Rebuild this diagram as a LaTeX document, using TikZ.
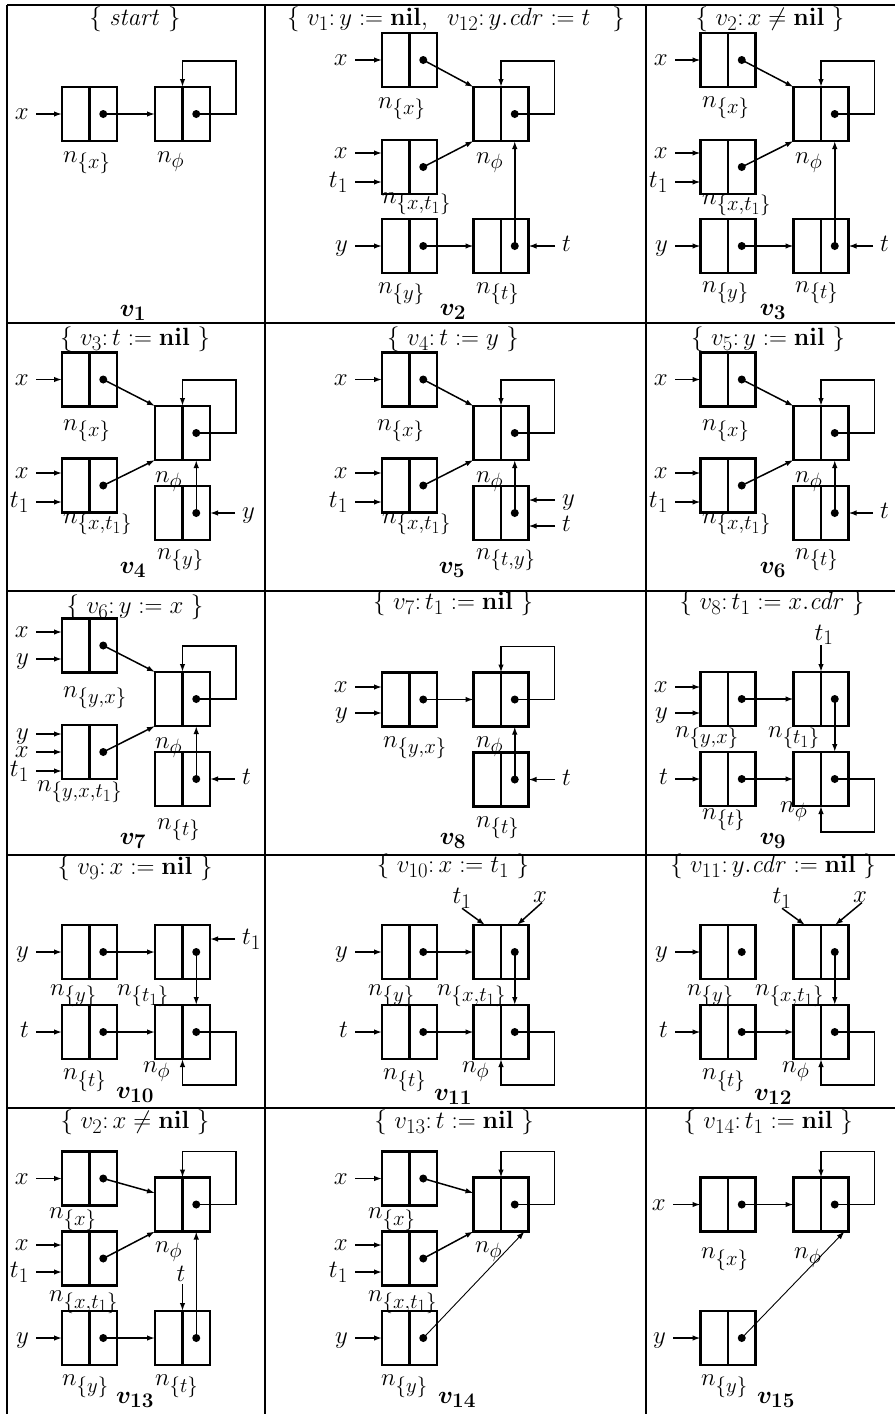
\documentclass[tikz,border=0pt]{standalone}
\usepackage{amsmath}
\usepackage{bm}
\DeclareMathSizes{24.88}{24.88}{20.74}{17.28}
\usetikzlibrary{arrows.meta}
\tikzset{
  lbox/.style={draw, line width=2.4pt, minimum width=55pt, minimum height=54pt, inner sep=0pt, outer sep=0pt},
  ptr/.style={-{Latex[length=8pt,width=5.5pt]}, line width=1.5pt},
  thinptr/.style={-{Latex[length=8pt,width=5.5pt]}, line width=0.9pt},
  vlab/.style={inner sep=0pt},
  nlab/.style={inner sep=0pt, anchor=base west},
  grid/.style={line width=2.2pt},
  every node/.style={font=\fontsize{24.88}{30}\selectfont}
}
\newcommand{\lc}[3]{%
  \node[lbox] (#1) at (#2,#3) {};
  \draw[line width=2.4pt] (#1.north) -- (#1.south);
  \coordinate (#1d) at ([xshift=13.75pt]#1.center);
  \fill (#1d) circle (4pt);}
\newcommand{\pvl}[5]{%
  \coordinate (#1s) at (#3,#4);
  \node[vlab, anchor=base east] (#1) at ([xshift=-7pt,yshift=-5.5pt]#1s) {$#2$};
  \draw[ptr] (#1s) -- (#5.west |- #1s);}
\newcommand{\pvr}[5]{%
  \coordinate (#1s) at (#3,#4);
  \node[vlab, anchor=base west] (#1) at ([xshift=7pt,yshift=-5.5pt]#1s) {$#2$};
  \draw[ptr] (#1s) -- (#5.east |- #1s);}
\newcommand{\nlbl}[4]{\node[nlab] (#1) at (#2,#3) {$#4$};}
\newcommand{\loopup}[1]{\draw[ptr] (#1d) -- ++(39.75,0) |- ([yshift=26pt]#1.north) -- (#1.north);}
\newcommand{\loopdn}[1]{\draw[ptr] (#1d) -- ++(39.75,0) |- ([yshift=-26pt]#1.south) -- (#1.south);}
\begin{document}
\begin{tikzpicture}[x=1pt,y=-1pt]
\useasboundingbox (0,0) rectangle (895,1414);
% grid
\draw[grid] (7,5) -- (895,5);
\draw[grid] (7,323) -- (895,323);
\draw[grid] (7,591) -- (895,591);
\draw[grid] (7,855) -- (895,855);
\draw[grid] (7,1108) -- (895,1108);
\draw[grid] (7,5) -- (7,1414);
\draw[grid] (265,5) -- (265,1414);
\draw[grid] (646,5) -- (646,1414);
% ---------- cell 1
\node (h1) at (135,19) {$\{\ \mathit{start}\ \}$};
\lc{a1x}{89.5}{114}\lc{a1p}{182.5}{114}
\pvl{a1vx}{x}{36}{114}{a1x}
\draw[ptr] (a1xd) -- (a1p.west);
\loopup{a1p}
\nlbl{a1lx}{63}{162}{n_{\{x\}}}
\nlbl{a1lp}{157}{162}{n_{\phi}}
\node (v1) at (133,313) {$\bm{v_1}$};
% ---------- cell 2
\node (h2) at (456,19) {$\{\ v_1{:}\,y := \mathbf{nil},\ \ v_{12}{:}\,y.\mathit{cdr} := t\hspace{22pt}\}$};
\lc{a2x}{409.5}{60}\lc{a2p}{501}{114}\lc{a2xt}{409.5}{167}\lc{a2y}{409.5}{246}\lc{a2t}{501}{246}
\pvl{a2vx}{x}{355}{60}{a2x}
\pvl{a2vx2}{x}{355}{153}{a2xt}
\pvl{a2vt1}{t_1}{355}{182}{a2xt}
\pvl{a2vy}{y}{355}{246}{a2y}
\pvr{a2vt}{t}{555}{246}{a2t}
\draw[ptr] (a2xd) -- (a2p.north west);
\draw[ptr] (a2xtd) -- (a2p.south west);
\draw[ptr] (a2yd) -- (a2t.west);
\draw[ptr] (a2td) -- (a2td |- a2p.south);
\loopup{a2p}
\nlbl{a2lx}{378}{108}{n_{\{x\}}}
\nlbl{a2lp}{476}{163}{n_{\phi}}
\nlbl{a2lxt}{382}{203}{n_{\{x,t_1\}}}
\nlbl{a2ly}{378}{293}{n_{\{y\}}}
\nlbl{a2lt}{476}{293}{n_{\{t\}}}
\node (v2) at (453,312) {$\bm{v_2}$};
% ---------- cell 3
\node (h3) at (770,19) {$\{\ v_2{:}\,x \neq \mathbf{nil}\ \}$};
\lc{a3x}{728}{60}\lc{a3p}{821}{114}\lc{a3xt}{728}{167}\lc{a3y}{728}{246}\lc{a3t}{821}{246}
\pvl{a3vx}{x}{675}{60}{a3x}
\pvl{a3vx2}{x}{675}{153}{a3xt}
\pvl{a3vt1}{t_1}{675}{182}{a3xt}
\pvl{a3vy}{y}{675}{246}{a3y}
\pvr{a3vt}{t}{873}{246}{a3t}
\draw[ptr] (a3xd) -- (a3p.north west);
\draw[ptr] (a3xtd) -- (a3p.south west);
\draw[ptr] (a3yd) -- (a3t.west);
\draw[ptr] (a3td) -- (a3td |- a3p.south);
\loopup{a3p}
\nlbl{a3lx}{702}{107}{n_{\{x\}}}
\nlbl{a3lp}{795}{163}{n_{\phi}}
\nlbl{a3lxt}{702}{204}{n_{\{x,t_1\}}}
\nlbl{a3ly}{702}{292}{n_{\{y\}}}
\nlbl{a3lt}{795}{292}{n_{\{t\}}}
\node (v3) at (773,312) {$\bm{v_3}$};
% ---------- cell 4
\node (h4) at (135,339) {$\{\ v_3{:}\,t := \mathbf{nil}\ \}$};
\lc{b1x}{89.5}{379.5}\lc{b1p}{182.5}{433}\lc{b1xt}{89.5}{485.5}\lc{b1y}{182.5}{513}
\pvl{b1vx}{x}{36}{379.5}{b1x}
\pvl{b1vx2}{x}{36}{473}{b1xt}
\pvl{b1vt1}{t_1}{36}{502}{b1xt}
\pvr{b1vy}{y}{235}{513}{b1y}
\draw[ptr] (b1xd) -- (b1p.north west);
\draw[ptr] (b1xtd) -- (b1p.south west);
\draw[ptr] (b1yd) -- (b1yd |- b1p.south);
\loopup{b1p}
\nlbl{b1lx}{63}{430}{n_{\{x\}}}
\nlbl{b1lp}{155}{482}{n_{\phi}}
\nlbl{b1lxt}{63}{523}{n_{\{x,t_1\}}}
\nlbl{b1ly}{157}{559}{n_{\{y\}}}
\node (v4) at (133,570) {$\bm{v_4}$};
% ---------- cell 5
\node (h5) at (453,339) {$\{\ v_4{:}\,t := y\ \}$};
\lc{b2x}{409.5}{379.5}\lc{b2p}{501}{433}\lc{b2xt}{409.5}{485.5}\lc{b2t}{501}{513}
\pvl{b2vx}{x}{355}{379.5}{b2x}
\pvl{b2vx2}{x}{355}{473}{b2xt}
\pvl{b2vt1}{t_1}{355}{502}{b2xt}
\pvr{b2vy}{y}{555}{500}{b2t}
\pvr{b2vt}{t}{555}{526}{b2t}
\draw[ptr] (b2xd) -- (b2p.north west);
\draw[ptr] (b2xtd) -- (b2p.south west);
\draw[ptr] (b2td) -- (b2td |- b2p.south);
\loopup{b2p}
\nlbl{b2lx}{377}{430}{n_{\{x\}}}
\nlbl{b2lp}{476}{482}{n_{\phi}}
\nlbl{b2lxt}{382}{523}{n_{\{x,t_1\}}}
\nlbl{b2lt}{476}{559}{n_{\{t,y\}}}
\node (v5) at (452,570) {$\bm{v_5}$};
% ---------- cell 6
\node (h6) at (768,339) {$\{\ v_5{:}\,y := \mathbf{nil}\ \}$};
\lc{b3x}{728}{379.5}\lc{b3p}{821}{433}\lc{b3xt}{728}{485.5}\lc{b3t}{821}{513}
\pvl{b3vx}{x}{675}{379.5}{b3x}
\pvl{b3vx2}{x}{675}{473}{b3xt}
\pvl{b3vt1}{t_1}{675}{502}{b3xt}
\pvr{b3vt}{t}{873}{513}{b3t}
\draw[ptr] (b3xd) -- (b3p.north west);
\draw[ptr] (b3xtd) -- (b3p.south west);
\draw[ptr] (b3td) -- (b3td |- b3p.south);
\loopup{b3p}
\nlbl{b3lx}{702}{430}{n_{\{x\}}}
\nlbl{b3lp}{795}{482}{n_{\phi}}
\nlbl{b3lxt}{702}{523}{n_{\{x,t_1\}}}
\nlbl{b3lt}{795}{559}{n_{\{t\}}}
\node (v6) at (773,570) {$\bm{v_6}$};
% ---------- cell 7
\node (h7) at (135,607) {$\{\ v_6{:}\,y := x\ \}$};
\lc{c1yx}{89.5}{645.5}\lc{c1p}{182.5}{699}\lc{c1yxt}{89.5}{752}\lc{c1t}{182.5}{779}
\pvl{c1vx}{x}{36}{632}{c1yx}
\pvl{c1vy}{y}{36}{659}{c1yx}
\pvl{c1vy2}{y}{36}{734}{c1yxt}
\pvl{c1vx2}{x}{36}{752}{c1yxt}
\pvl{c1vt1}{t_1}{36}{771}{c1yxt}
\pvr{c1vt}{t}{235}{779}{c1t}
\draw[ptr] (c1yxd) -- (c1p.north west);
\draw[ptr] (c1yxtd) -- (c1p.south west);
\draw[ptr] (c1td) -- (c1td |- c1p.south);
\loopup{c1p}
\nlbl{c1lyx}{63}{697}{n_{\{y,x\}}}
\nlbl{c1lp}{155}{748}{n_{\phi}}
\nlbl{c1lyxt}{37}{791}{n_{\{y,x,t_1\}}}
\nlbl{c1lt}{157}{829}{n_{\{t\}}}
\node (v7) at (133,841) {$\bm{v_7}$};
% ---------- cell 8
\node (h8) at (453,603) {$\{\ v_7{:}\,t_1 := \mathbf{nil}\ \}$};
\lc{c2yx}{409.5}{699.5}\lc{c2p}{501}{699.5}\lc{c2t}{501}{779.5}
\pvl{c2vx}{x}{355}{687}{c2yx}
\pvl{c2vy}{y}{355}{713}{c2yx}
\pvr{c2vt}{t}{555}{779.5}{c2t}
\draw[ptr] (c2yxd) -- (c2p.west);
\draw[ptr] (c2td) -- (c2td |- c2p.south);
\loopup{c2p}
\nlbl{c2lyx}{383}{747}{n_{\{y,x\}}}
\nlbl{c2lp}{476}{747}{n_{\phi}}
\nlbl{c2lt}{476}{827}{n_{\{t\}}}
\node (v8) at (453,841) {$\bm{v_8}$};
% ---------- cell 9
\node (h9) at (772,603) {$\{\ v_8{:}\,t_1 := x.\mathit{cdr}\ \}$};
\lc{c3yx}{728}{699}\lc{c3t1}{821}{699}\lc{c3t}{728}{779}\lc{c3p}{821}{779}
\pvl{c3vx}{x}{675}{687}{c3yx}
\pvl{c3vy}{y}{675}{713}{c3yx}
\pvl{c3vt}{t}{675}{779}{c3t}
\node[vlab, anchor=south] (c3vt1) at (824,645) {$t_1$};
\draw[ptr] (c3vt1.south -| c3t1.north) -- (c3t1.north);
\draw[ptr] (c3yxd) -- (c3t1.west);
\draw[ptr] (c3td) -- (c3p.west);
\draw[ptr] (c3t1d) -- (c3t1d |- c3p.north);
\loopdn{c3p}
\nlbl{c3lyx}{675}{737}{n_{\{y,x\}}}
\nlbl{c3lt1}{768}{737}{n_{\{t_1\}}}
\nlbl{c3lt}{702}{819}{n_{\{t\}}}
\nlbl{c3lp}{780}{812}{n_{\phi}}
\node (v9) at (773,841) {$\bm{v_9}$};
% ---------- cell 10
\node (h10) at (135,868) {$\{\ v_9{:}\,x := \mathbf{nil}\ \}$};
\lc{d1y}{89.5}{952}\lc{d1t1}{182.5}{952}\lc{d1t}{89.5}{1032}\lc{d1p}{182.5}{1032}
\pvl{d1vy}{y}{36}{952}{d1y}
\pvl{d1vt}{t}{36}{1032}{d1t}
\pvr{d1vt1}{t_1}{235}{939}{d1t1}
\draw[ptr] (d1yd) -- (d1t1.west);
\draw[ptr] (d1td) -- (d1p.west);
\draw[ptr] (d1t1d) -- (d1t1d |- d1p.north);
\loopdn{d1p}
\nlbl{d1ly}{50}{995}{n_{\{y\}}}
\nlbl{d1lt1}{117}{995}{n_{\{t_1\}}}
\nlbl{d1lt}{63}{1079}{n_{\{t\}}}
\nlbl{d1lp}{143}{1072}{n_{\phi}}
\node (v10) at (135,1095) {$\bm{v_{10}}$};
% ---------- cell 11
\node (h11) at (453,866) {$\{\ v_{10}{:}\,x := t_1\ \}$};
\lc{d2y}{409.5}{952}\lc{d2xt}{501}{952}\lc{d2t}{409.5}{1032}\lc{d2p}{501}{1032}
\pvl{d2vy}{y}{355}{952}{d2y}
\pvl{d2vt}{t}{355}{1032}{d2t}
\node[vlab] (d2vt1) at (462,898) {$t_1$};
\node[vlab] (d2vx) at (540,897) {$x$};
\draw[ptr] (d2vt1.south) -- ([xshift=-16pt]d2xt.north);
\draw[ptr] ([xshift=2pt]d2vx.south) -- ([xshift=16pt]d2xt.north);
\draw[ptr] (d2yd) -- (d2xt.west);
\draw[ptr] (d2td) -- (d2p.west);
\draw[ptr] (d2xtd) -- (d2xtd |- d2p.north);
\loopdn{d2p}
\nlbl{d2ly}{368}{995}{n_{\{y\}}}
\nlbl{d2lxt}{437}{995}{n_{\{x,t_1\}}}
\nlbl{d2lt}{383}{1079}{n_{\{t\}}}
\nlbl{d2lp}{462}{1072}{n_{\phi}}
\node (v11) at (453,1097) {$\bm{v_{11}}$};
% ---------- cell 12
\node (h12) at (773,866) {$\{\ v_{11}{:}\,y.\mathit{cdr} := \mathbf{nil}\ \}$};
\lc{d3y}{728}{952}\lc{d3xt}{821}{952}\lc{d3t}{728}{1032}\lc{d3p}{821}{1032}
\pvl{d3vy}{y}{675}{952}{d3y}
\pvl{d3vt}{t}{675}{1032}{d3t}
\node[vlab] (d3vt1) at (782,898) {$t_1$};
\node[vlab] (d3vx) at (860,897) {$x$};
\draw[ptr] (d3vt1.south) -- ([xshift=-16pt]d3xt.north);
\draw[ptr] ([xshift=2pt]d3vx.south) -- ([xshift=14pt]d3xt.north);
\draw[ptr] (d3td) -- (d3p.west);
\draw[ptr] (d3xtd) -- (d3xtd |- d3p.north);
\loopdn{d3p}
\nlbl{d3ly}{687}{995}{n_{\{y\}}}
\nlbl{d3lxt}{755}{995}{n_{\{x,t_1\}}}
\nlbl{d3lt}{702}{1079}{n_{\{t\}}}
\nlbl{d3lp}{782}{1072}{n_{\phi}}
\node (v12) at (773,1097) {$\bm{v_{12}}$};
% ---------- cell 13
\node (h13) at (135,1122) {$\{\ v_2{:}\,x \neq \mathbf{nil}\ \}$};
\lc{e1x}{89.5}{1178.5}\lc{e1p}{182.5}{1204.5}\lc{e1xt}{89.5}{1258.5}\lc{e1y}{89.5}{1338}\lc{e1t}{182.5}{1338}
\pvl{e1vx}{x}{36}{1178.5}{e1x}
\pvl{e1vx2}{x}{36}{1245}{e1xt}
\pvl{e1vt1}{t_1}{36}{1272}{e1xt}
\pvl{e1vy}{y}{36}{1338}{e1y}
\node[vlab, anchor=south] (e1vt) at (181,1282) {$t$};
\draw[ptr] ([yshift=-2pt]e1vt.south -| e1t.north) -- (e1t.north);
\draw[ptr] (e1xd) -- ([yshift=11.5pt]e1p.west);
\draw[ptr] (e1xtd) -- (e1p.south west);
\draw[ptr] (e1yd) -- (e1t.west);
\draw[ptr] (e1td) -- (e1td |- e1p.south);
\loopup{e1p}
\nlbl{e1lx}{49}{1218}{n_{\{x\}}}
\nlbl{e1lp}{155}{1252}{n_{\phi}}
\nlbl{e1lxt}{49}{1301}{n_{\{x,t_1\}}}
\nlbl{e1ly}{62}{1385}{n_{\{y\}}}
\nlbl{e1lt}{155}{1385}{n_{\{t\}}}
\node (v13) at (135,1400) {$\bm{v_{13}}$};
% ---------- cell 14
\node (h14) at (454,1122) {$\{\ v_{13}{:}\,t := \mathbf{nil}\ \}$};
\lc{e2x}{409.5}{1178.5}\lc{e2p}{501}{1204.5}\lc{e2xt}{409.5}{1258.5}\lc{e2y}{409.5}{1338}
\pvl{e2vx}{x}{355}{1178.5}{e2x}
\pvl{e2vx2}{x}{355}{1245}{e2xt}
\pvl{e2vt1}{t_1}{355}{1272}{e2xt}
\pvl{e2vy}{y}{355}{1338}{e2y}
\draw[ptr] (e2xd) -- ([yshift=11.5pt]e2p.west);
\draw[ptr] (e2xtd) -- (e2p.south west);
\draw[thinptr] (e2yd) -- ([xshift=-4pt]e2p.south east);
\loopup{e2p}
\nlbl{e2lx}{368}{1218}{n_{\{x\}}}
\nlbl{e2lp}{475}{1252}{n_{\phi}}
\nlbl{e2lxt}{368}{1301}{n_{\{x,t_1\}}}
\nlbl{e2ly}{381}{1385}{n_{\{y\}}}
\node (v14) at (457,1400) {$\bm{v_{14}}$};
% ---------- cell 15
\node (h15) at (768,1122) {$\{\ v_{14}{:}\,t_1 := \mathbf{nil}\ \}$};
\lc{e3x}{728}{1204.5}\lc{e3p}{821}{1204.5}\lc{e3y}{728}{1338}
\pvl{e3vx}{x}{673}{1204.5}{e3x}
\pvl{e3vy}{y}{673}{1338}{e3y}
\draw[ptr] (e3xd) -- (e3p.west);
\draw[thinptr] (e3yd) -- ([xshift=-4pt]e3p.south east);
\loopup{e3p}
\nlbl{e3lx}{701}{1258}{n_{\{x\}}}
\nlbl{e3lp}{794}{1258}{n_{\phi}}
\nlbl{e3ly}{701}{1385}{n_{\{y\}}}
\node (v15) at (776,1400) {$\bm{v_{15}}$};
\end{tikzpicture}
\end{document}
